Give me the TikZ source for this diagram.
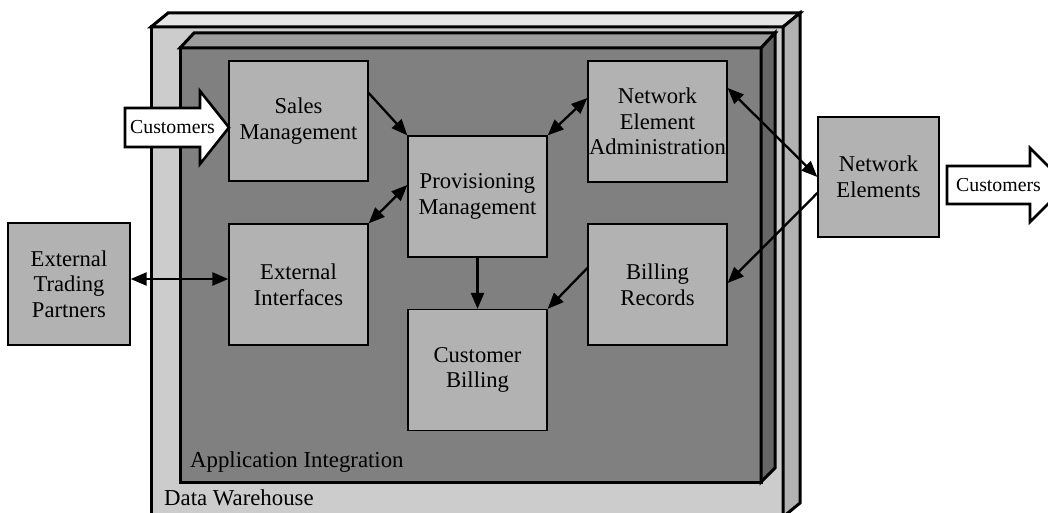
\documentclass[tikz,border=0pt]{standalone}
\usepackage{fontspec}
\setmainfont{Liberation Serif}
\usetikzlibrary{arrows.meta}
\definecolor{boxgray}{gray}{0.70}
\definecolor{dwfront}{gray}{0.80}
\definecolor{dwtop}{gray}{0.90}
\definecolor{dwside}{gray}{0.70}
\definecolor{aifront}{gray}{0.50}
\definecolor{aitop}{gray}{0.61}
\definecolor{aiside}{gray}{0.40}
\begin{document}
\begin{tikzpicture}[x=1pt,y=-1pt,
  blk/.style={draw=black, line width=1.3pt, fill=boxgray, minimum width=139pt,
    minimum height=121pt, align=center, inner sep=0pt,
    font=\fontsize{22.6}{25.6}\selectfont},
  slab/.style={draw=black, line width=3pt, line join=miter},
  conn/.style={line width=2.3pt, -{Triangle[length=16pt,width=13pt]}},
  biconn/.style={line width=2.3pt, {Triangle[length=16pt,width=13pt]}-{Triangle[length=16pt,width=13pt]}},
  lbl/.style={anchor=base west, inner sep=0pt, font=\fontsize{22.8}{25.6}\selectfont},
  custarrow/.style={draw=black, fill=white, line width=2.6pt, line join=miter},
  custtext/.style={inner sep=0pt, font=\fontsize{19.8}{22}\selectfont}]
\useasboundingbox (0,0) rectangle (1048,513);
\clip (0,0) rectangle (1048,513);
% Data Warehouse slab
\path[slab, fill=dwfront] (151,27) rectangle (783,517);
\path[slab, fill=dwtop] (151,27) -- (168,13) -- (800,13) -- (783,27) -- cycle;
\path[slab, fill=dwside] (783,27) -- (800,13) -- (800,503) -- (783,517) -- cycle;
% Application Integration slab
\path[slab, fill=aifront] (180,48) rectangle (761,482);
\path[slab, fill=aitop] (180,48) -- (194,33) -- (775,33) -- (761,48) -- cycle;
\path[slab, fill=aiside] (761,48) -- (775,33) -- (775,468) -- (761,482) -- cycle;
\node[lbl] (ailbl) at (190,467) {Application Integration};
\node[lbl] (dwlbl) at (164,505) {Data Warehouse};
% boxes
\node[blk, minimum height=120pt] (sales) at (298.5,121) {Sales\\Management};
\node[blk] (extif) at (298.5,284.5) {External\\Interfaces};
\node[blk] (prov) at (477.5,196.5) {Provisioning\\Management};
\node[blk] (cbill) at (477.5,370) {Customer\\Billing};
\node[blk] (nea) at (657.5,121.5) {Network\\Element\\Administration};
\node[blk] (brec) at (657.5,284.5) {Billing\\Records};
\node[blk, minimum width=122pt, minimum height=122pt] (etp) at (69,284) {External\\Trading\\Partners};
\node[blk, minimum width=121pt, minimum height=120pt] (ne) at (878.5,177) {Network\\Elements};
% connectors
\draw[conn] ([yshift=28pt]sales.east) -- (prov.north west);
\draw[biconn] (extif.north east) -- ([yshift=11.5pt]prov.west);
\draw[biconn] (prov.north east) -- ([yshift=23.5pt]nea.west);
\draw[conn] (prov.south) -- (cbill.north);
\draw[conn] ([yshift=16.5pt]brec.west) -- (cbill.north east);
\draw[conn] ([yshift=-16pt]ne.west) -- ([yshift=1.5pt]brec.east);
\draw[biconn] ([yshift=33.5pt]nea.east) -- (ne.west);
\draw[biconn] ([yshift=5pt]etp.east) -- ([yshift=5.5pt]extif.west);
% Customers arrows
\path[custarrow] (125,108) -- (200,108) -- (200,91) -- (229,127.5) -- (200,164) -- (200,147) -- (125,147) -- cycle;
\node[custtext] (custin) at (172.5,127.5) {Customers};
\path[custarrow] (947,166) -- (1030,166) -- (1030,148) -- (1067,185) -- (1030,222) -- (1030,204) -- (947,204) -- cycle;
\node[custtext] (custout) at (998.5,185) {Customers};
\end{tikzpicture}
\end{document}
